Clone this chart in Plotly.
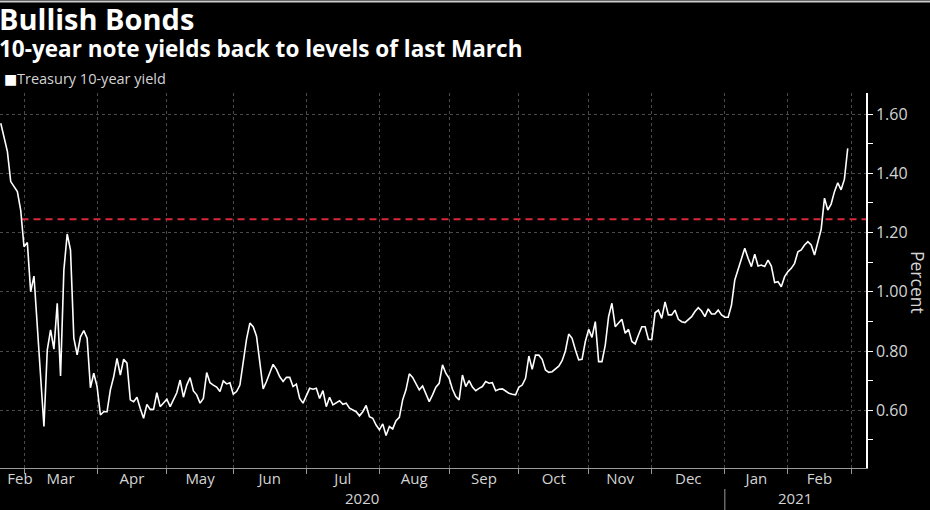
import math
import pandas as pd
import plotly.graph_objects as go

TITLE = "Bullish Bonds"
SUBTITLE = "10-year note yields back to levels of last March"
SERIES_NAME = "Treasury 10-year yield"
Y_TITLE = "Percent"

START_DATE = "2020-02-20"
END_DATE = "2021-02-26"
HOLIDAYS = ["2020-04-10", "2020-05-25", "2020-07-03", "2020-09-07", "2020-10-12",
            "2020-11-11", "2020-11-26", "2020-12-25", "2021-01-01", "2021-01-18",
            "2021-02-15"]

# daily 10-year yield (percent), one value per trading day from START_DATE to END_DATE
YIELDS = [
    1.569, 1.523, 1.473, 1.372, 1.353, 1.338, 1.276, 1.152, 1.166, 1.000,
    1.053, 0.885, 0.700, 0.545, 0.803, 0.871, 0.806, 0.961, 0.716, 1.073,
    1.195, 1.141, 0.843, 0.787, 0.848, 0.869, 0.843, 0.676, 0.725, 0.680,
    0.584, 0.595, 0.595, 0.669, 0.713, 0.775, 0.719, 0.772, 0.759, 0.635,
    0.629, 0.644, 0.606, 0.573, 0.620, 0.603, 0.603, 0.659, 0.612, 0.626,
    0.637, 0.612, 0.635, 0.659, 0.702, 0.644, 0.685, 0.710, 0.665, 0.652,
    0.624, 0.640, 0.727, 0.693, 0.685, 0.678, 0.663, 0.699, 0.689, 0.693,
    0.654, 0.663, 0.685, 0.759, 0.840, 0.894, 0.882, 0.850, 0.760, 0.672,
    0.697, 0.723, 0.755, 0.738, 0.713, 0.697, 0.711, 0.711, 0.680, 0.688,
    0.640, 0.624, 0.652, 0.674, 0.671, 0.674, 0.640, 0.666, 0.612, 0.644,
    0.618, 0.624, 0.632, 0.620, 0.624, 0.607, 0.601, 0.595, 0.581, 0.595,
    0.616, 0.578, 0.573, 0.550, 0.534, 0.554, 0.515, 0.545, 0.537, 0.565,
    0.576, 0.635, 0.669, 0.723, 0.711, 0.691, 0.669, 0.682, 0.652, 0.629,
    0.652, 0.678, 0.691, 0.753, 0.725, 0.708, 0.671, 0.646, 0.635, 0.719,
    0.680, 0.700, 0.678, 0.666, 0.674, 0.680, 0.697, 0.691, 0.693, 0.666,
    0.671, 0.672, 0.665, 0.657, 0.654, 0.652, 0.678, 0.685, 0.708, 0.783,
    0.738, 0.786, 0.786, 0.772, 0.736, 0.728, 0.730, 0.738, 0.749, 0.767,
    0.800, 0.857, 0.843, 0.804, 0.770, 0.772, 0.832, 0.873, 0.846, 0.899,
    0.764, 0.764, 0.820, 0.916, 0.961, 0.882, 0.896, 0.907, 0.860, 0.873,
    0.832, 0.824, 0.854, 0.882, 0.882, 0.839, 0.839, 0.929, 0.938, 0.910,
    0.966, 0.922, 0.922, 0.938, 0.907, 0.899, 0.896, 0.907, 0.916, 0.933,
    0.946, 0.935, 0.916, 0.942, 0.925, 0.925, 0.938, 0.922, 0.914, 0.914,
    0.955, 1.040, 1.073, 1.107, 1.147, 1.113, 1.085, 1.127, 1.087, 1.090,
    1.085, 1.107, 1.087, 1.031, 1.034, 1.017, 1.051, 1.068, 1.079, 1.096,
    1.135, 1.141, 1.158, 1.169, 1.158, 1.124, 1.164, 1.211, 1.316, 1.276,
    1.296, 1.338, 1.368, 1.344, 1.380, 1.484,
]

MARCH_LEVEL = 1.245
Y_RANGE = [0.405, 1.671]
Y_TICKS = [0.60, 0.80, 1.00, 1.20, 1.40, 1.60]

# trading-day axis span (in trading days relative to first data point)
X_PAD_LEFT = 0.23
X_PAD_RIGHT = 5.5

# ---------------------------------------------------------------- calendar
cal = pd.bdate_range("2020-02-03", "2021-03-31", freq="C", holidays=HOLIDAYS)
dates = cal[(cal >= START_DATE) & (cal <= END_DATE)]
assert len(dates) == len(YIELDS), (len(dates), len(YIELDS))
base = cal.get_loc(dates[0])


def at(k):
    """date for a (fractional) trading-day offset k from the first data point"""
    i = math.floor(k)
    return cal[base + i] + pd.Timedelta(days=k - i)


def rel(d):
    return cal.get_loc(d) - base


n = len(YIELDS)
x_start = at(-X_PAD_LEFT)
x_end = at(n - 1 + X_PAD_RIGHT)
k_start, k_end = -X_PAD_LEFT, n - 1 + X_PAD_RIGHT

periods = cal.to_period("M")
firsts = cal.to_series().groupby(periods).min()
grid_ticks = [d for d in firsts if x_start < d <= x_end]

data_months = sorted(set(dates.to_period("M")))
label_x, label_t = [], []
for i, m in enumerate(data_months):
    s = max(rel(firsts[m]), k_start)
    nxt = m + 1
    e = min(rel(firsts[nxt]) if nxt in firsts.index else k_end, k_end)
    mid = (s + e) / 2
    if i == 0:
        mid = max(mid, 5.8)
    label_x.append(at(mid))
    label_t.append(m.strftime("%b"))

first_2021 = rel(firsts[pd.Period("2021-01", "M")])
year_pos = [((k_start + first_2021) / 2, "2020"), ((first_2021 + k_end) / 2, "2021")]

# where the series first falls below the March level
cross = None
for i in range(1, n):
    if YIELDS[i - 1] >= MARCH_LEVEL > YIELDS[i]:
        cross = (i - 1) + (YIELDS[i - 1] - MARCH_LEVEL) / (YIELDS[i - 1] - YIELDS[i])
        break

# ---------------------------------------------------------------- figure
breaks = [dict(bounds=["sat", "mon"]), dict(values=HOLIDAYS)]
FONT = "Open Sans"
TXT = "#d4d4d4"
GRID = "#4a4a4a"

fig = go.Figure()
fig.add_trace(go.Scatter(x=[at(cross), x_end], y=[MARCH_LEVEL, MARCH_LEVEL], mode="lines",
                         line=dict(color="#d8293a", width=2, dash="7px,5px"),
                         hoverinfo="skip", showlegend=False))
fig.add_trace(go.Scatter(x=dates, y=YIELDS, mode="lines", name=SERIES_NAME,
                         line=dict(color="#ffffff", width=1.6), showlegend=False))
fig.add_trace(go.Scatter(x=dates, y=YIELDS, mode="none", xaxis="x2",
                         hoverinfo="skip", showlegend=False))

T, B = 93, 468
H = B - T
W = 866


def py(y):
    return (B - y) / H


fig.update_layout(
    width=930, height=510,
    margin=dict(l=0, r=930 - W, t=T, b=510 - B),
    paper_bgcolor="#000000", plot_bgcolor="#000000",
    font=dict(family=FONT, color=TXT),
    xaxis=dict(
        type="date", range=[x_start, x_end], rangebreaks=breaks,
        tickvals=grid_ticks, showticklabels=False,
        showgrid=True, gridcolor=GRID, griddash="dot", gridwidth=1,
        ticks="outside", ticklen=5, tickcolor="#9a9a9a",
        showline=True, linecolor="#9a9a9a", linewidth=1, zeroline=False,
    ),
    xaxis2=dict(
        type="date", overlaying="x", anchor="y", side="bottom",
        range=[x_start, x_end], rangebreaks=breaks,
        tickvals=label_x, ticktext=label_t, showgrid=False, ticks="",
        showline=False, zeroline=False, tickfont=dict(size=15, color=TXT),
    ),
    yaxis=dict(
        side="right", range=Y_RANGE, tickvals=Y_TICKS, tickformat=".2f",
        showgrid=True, gridcolor=GRID, griddash="dot", gridwidth=1,
        ticks="outside", ticklen=5, tickcolor="#ffffff",
        minor=dict(dtick=0.1, tick0=0, ticks="outside", ticklen=5, tickcolor="#ffffff", showgrid=False),
        showline=True, linecolor="#ffffff", linewidth=1.5, zeroline=False,
        tickfont=dict(size=16, color=TXT),
    ),
    hovermode=False,
)

ann = [
    dict(text=f"<b>{TITLE}</b>", x=0, y=py(19), xref="paper", yref="paper", xanchor="left",
         yanchor="middle", showarrow=False, font=dict(size=29, color="#ffffff", family=FONT), xshift=-3),
    dict(text=f"<b>{SUBTITLE}</b>", x=0, y=py(48.5), xref="paper", yref="paper", xanchor="left",
         yanchor="middle", showarrow=False, font=dict(size=22.5, color="#ffffff", family=FONT), xshift=-3),
    dict(text="■", x=0, y=py(79), xref="paper", yref="paper", xanchor="left", yanchor="middle",
         showarrow=False, font=dict(size=14, color="#ffffff", family="DejaVu Sans"), xshift=2),
    dict(text=SERIES_NAME, x=0, y=py(79), xref="paper", yref="paper", xanchor="left", yanchor="middle",
         showarrow=False, font=dict(size=14.5, color=TXT, family=FONT), xshift=15),
    dict(text=Y_TITLE, x=918 / W, y=py(282), xref="paper", yref="paper", xanchor="center",
         yanchor="middle", textangle=90, showarrow=False, font=dict(size=17.5, color=TXT, family=FONT)),
]
for k, label in year_pos:
    ann.append(dict(text=label, x=at(k), y=py(498), xref="x", yref="paper", xanchor="center",
                    yanchor="middle", showarrow=False, font=dict(size=15, color=TXT, family=FONT)))
fig.update_layout(annotations=ann)

fig.add_shape(type="line", xref="x", yref="paper", x0=at(first_2021), x1=at(first_2021),
              y0=py(489), y1=py(510), line=dict(color="#9a9a9a", width=1))
fig.add_shape(type="line", xref="paper", yref="paper", x0=0, x1=930 / W, y0=py(1.5), y1=py(1.5),
              line=dict(color="#cccccc", width=2))

fig.write_html("out.html", config={"displayModeBar": False},
               post_script="document.body.style.margin='0px';")
